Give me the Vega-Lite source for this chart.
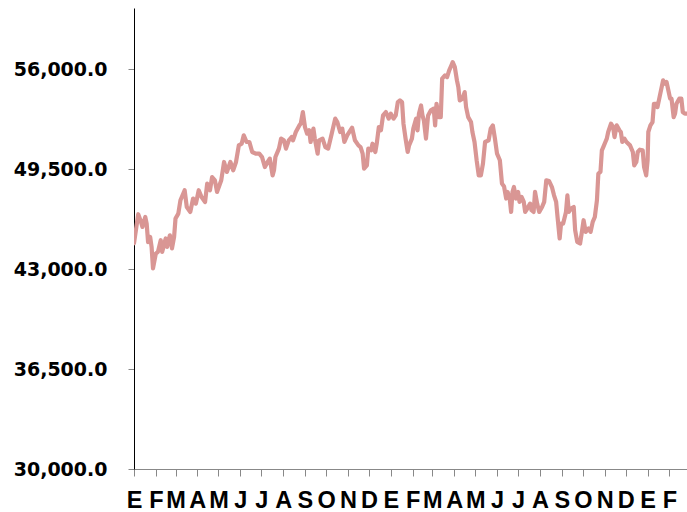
{
  "$schema": "https://vega.github.io/schema/vega-lite/v6.json",
  "width": 553,
  "height": 461,
  "autosize": {"type": "none"},
  "padding": {"left": 134, "top": 8, "right": 0, "bottom": 43},
  "background": "white",
  "config": {"view": {"stroke": null}},
  "data": {"values": [
    {"date":"2021-01-01","value":44690},{"date":"2021-01-07","value":46580},{"date":"2021-01-11","value":46070},{"date":"2021-01-13","value":45750},{"date":"2021-01-17","value":46400},{"date":"2021-01-19","value":45970},{"date":"2021-01-21","value":44770},{"date":"2021-01-24","value":45100},{"date":"2021-01-26","value":44450},{"date":"2021-01-28","value":43050},
    {"date":"2021-02-01","value":44020},{"date":"2021-02-04","value":44130},{"date":"2021-02-08","value":44890},{"date":"2021-02-10","value":44130},{"date":"2021-02-15","value":45000},{"date":"2021-02-17","value":44450},{"date":"2021-02-21","value":45210},{"date":"2021-02-24","value":44350},{"date":"2021-02-27","value":45100},
    {"date":"2021-03-01","value":46300},{"date":"2021-03-05","value":46620},{"date":"2021-03-08","value":47490},{"date":"2021-03-14","value":48140},{"date":"2021-03-17","value":47050},{"date":"2021-03-22","value":46730},{"date":"2021-03-26","value":47600},{"date":"2021-03-30","value":47270},
    {"date":"2021-04-03","value":48140},{"date":"2021-04-07","value":47700},{"date":"2021-04-12","value":47380},{"date":"2021-04-15","value":48570},{"date":"2021-04-19","value":48140},{"date":"2021-04-22","value":49000},{"date":"2021-04-26","value":48790},{"date":"2021-04-29","value":48030},
    {"date":"2021-05-05","value":48790},{"date":"2021-05-09","value":49980},{"date":"2021-05-13","value":49330},{"date":"2021-05-18","value":49980},{"date":"2021-05-22","value":49440},{"date":"2021-05-26","value":49980},{"date":"2021-05-30","value":51060},
    {"date":"2021-06-03","value":51170},{"date":"2021-06-06","value":51710},{"date":"2021-06-10","value":51280},{"date":"2021-06-14","value":51280},{"date":"2021-06-18","value":50630},{"date":"2021-06-23","value":50520},{"date":"2021-06-28","value":50520},
    {"date":"2021-07-02","value":50300},{"date":"2021-07-06","value":49650},{"date":"2021-07-10","value":49980},{"date":"2021-07-13","value":50200},{"date":"2021-07-17","value":49110},{"date":"2021-07-19","value":49440},{"date":"2021-07-21","value":50300},{"date":"2021-07-26","value":50850},{"date":"2021-07-29","value":51500},
    {"date":"2021-08-02","value":51390},{"date":"2021-08-05","value":50850},{"date":"2021-08-09","value":51390},{"date":"2021-08-13","value":51600},{"date":"2021-08-15","value":51390},{"date":"2021-08-19","value":51930},{"date":"2021-08-24","value":52360},{"date":"2021-08-26","value":52470},{"date":"2021-08-29","value":53230},
    {"date":"2021-09-01","value":52250},{"date":"2021-09-04","value":51820},{"date":"2021-09-07","value":52040},{"date":"2021-09-09","value":51280},{"date":"2021-09-13","value":52150},{"date":"2021-09-15","value":51500},{"date":"2021-09-19","value":50520},{"date":"2021-09-21","value":51390},{"date":"2021-09-26","value":51500},{"date":"2021-09-30","value":50950},
    {"date":"2021-10-04","value":50850},{"date":"2021-10-09","value":51820},{"date":"2021-10-14","value":52800},{"date":"2021-10-17","value":52580},{"date":"2021-10-21","value":51930},{"date":"2021-10-24","value":52150},{"date":"2021-10-27","value":51280},{"date":"2021-10-31","value":51710},
    {"date":"2021-11-07","value":52210},{"date":"2021-11-11","value":51390},{"date":"2021-11-16","value":51060},{"date":"2021-11-19","value":50950},{"date":"2021-11-22","value":50520},{"date":"2021-11-24","value":49550},{"date":"2021-11-28","value":49760},{"date":"2021-11-30","value":50850},
    {"date":"2021-12-04","value":50740},{"date":"2021-12-06","value":51170},{"date":"2021-12-10","value":50630},{"date":"2021-12-12","value":51170},{"date":"2021-12-15","value":52250},{"date":"2021-12-18","value":52040},{"date":"2021-12-21","value":53010},{"date":"2021-12-25","value":53230},{"date":"2021-12-29","value":52800},
    {"date":"2022-01-01","value":53120},{"date":"2022-01-05","value":52800},{"date":"2022-01-08","value":53010},{"date":"2022-01-11","value":53880},{"date":"2022-01-14","value":53990},{"date":"2022-01-17","value":53880},{"date":"2022-01-19","value":52470},{"date":"2022-01-22","value":51500},{"date":"2022-01-25","value":50630},{"date":"2022-01-27","value":51060},{"date":"2022-01-31","value":51500},
    {"date":"2022-02-02","value":52150},{"date":"2022-02-06","value":52800},{"date":"2022-02-08","value":52040},{"date":"2022-02-10","value":53120},{"date":"2022-02-13","value":53660},{"date":"2022-02-15","value":53010},{"date":"2022-02-17","value":52690},{"date":"2022-02-20","value":51500},{"date":"2022-02-23","value":53010},{"date":"2022-02-27","value":53340},
    {"date":"2022-03-03","value":53450},{"date":"2022-03-05","value":52360},{"date":"2022-03-07","value":53770},{"date":"2022-03-10","value":52900},{"date":"2022-03-13","value":52900},{"date":"2022-03-15","value":55400},{"date":"2022-03-19","value":55610},{"date":"2022-03-22","value":55500},{"date":"2022-03-25","value":55940},{"date":"2022-03-28","value":56260},{"date":"2022-03-30","value":56480},
    {"date":"2022-04-02","value":56150},{"date":"2022-04-05","value":55290},{"date":"2022-04-07","value":54850},{"date":"2022-04-09","value":53990},{"date":"2022-04-13","value":54100},{"date":"2022-04-16","value":54530},{"date":"2022-04-18","value":53550},{"date":"2022-04-21","value":52900},{"date":"2022-04-25","value":52580},{"date":"2022-04-27","value":51930},{"date":"2022-04-30","value":51280},
    {"date":"2022-05-03","value":50090},{"date":"2022-05-06","value":49110},{"date":"2022-05-09","value":49110},{"date":"2022-05-12","value":49870},{"date":"2022-05-15","value":51280},{"date":"2022-05-20","value":51390},{"date":"2022-05-23","value":52150},{"date":"2022-05-26","value":52360},{"date":"2022-05-29","value":51500},
    {"date":"2022-06-01","value":50520},{"date":"2022-06-05","value":50090},{"date":"2022-06-08","value":48570},{"date":"2022-06-11","value":48380},{"date":"2022-06-14","value":47600},{"date":"2022-06-16","value":48030},{"date":"2022-06-19","value":47600},{"date":"2022-06-21","value":46730},{"date":"2022-06-23","value":48030},{"date":"2022-06-25","value":48350},{"date":"2022-06-28","value":47600},
    {"date":"2022-07-01","value":48030},{"date":"2022-07-03","value":47380},{"date":"2022-07-06","value":47700},{"date":"2022-07-09","value":47380},{"date":"2022-07-11","value":46730},{"date":"2022-07-14","value":46950},{"date":"2022-07-18","value":47270},{"date":"2022-07-20","value":46840},{"date":"2022-07-23","value":46730},{"date":"2022-07-25","value":48030},{"date":"2022-07-28","value":47270},{"date":"2022-07-31","value":46730},
    {"date":"2022-08-04","value":47050},{"date":"2022-08-07","value":47380},{"date":"2022-08-10","value":48790},{"date":"2022-08-14","value":48740},{"date":"2022-08-18","value":48350},{"date":"2022-08-21","value":47810},{"date":"2022-08-24","value":47380},{"date":"2022-08-26","value":46400},{"date":"2022-08-29","value":45000},{"date":"2022-08-31","value":45970},
    {"date":"2022-09-03","value":45970},{"date":"2022-09-07","value":46730},{"date":"2022-09-09","value":47810},{"date":"2022-09-11","value":46730},{"date":"2022-09-14","value":46950},{"date":"2022-09-18","value":47050},{"date":"2022-09-20","value":45540},{"date":"2022-09-23","value":44780},{"date":"2022-09-27","value":44670},{"date":"2022-09-30","value":45540},
    {"date":"2022-10-02","value":46190},{"date":"2022-10-05","value":45430},{"date":"2022-10-09","value":45650},{"date":"2022-10-12","value":45430},{"date":"2022-10-15","value":46080},{"date":"2022-10-18","value":46400},{"date":"2022-10-21","value":47490},{"date":"2022-10-23","value":49220},{"date":"2022-10-26","value":49330},{"date":"2022-10-28","value":50740},{"date":"2022-10-30","value":50950},
    {"date":"2022-11-02","value":51280},{"date":"2022-11-04","value":51500},{"date":"2022-11-06","value":51930},{"date":"2022-11-10","value":52470},{"date":"2022-11-13","value":52250},{"date":"2022-11-15","value":51600},{"date":"2022-11-18","value":52360},{"date":"2022-11-22","value":52040},{"date":"2022-11-24","value":51930},{"date":"2022-11-26","value":51280},{"date":"2022-11-29","value":51500},
    {"date":"2022-12-02","value":51280},{"date":"2022-12-07","value":51060},{"date":"2022-12-11","value":50630},{"date":"2022-12-13","value":49760},{"date":"2022-12-16","value":49980},{"date":"2022-12-18","value":50630},{"date":"2022-12-21","value":50780},{"date":"2022-12-25","value":50740},{"date":"2022-12-27","value":49650},{"date":"2022-12-30","value":49110},
    {"date":"2023-01-01","value":50090},{"date":"2023-01-02","value":51930},{"date":"2023-01-05","value":52360},{"date":"2023-01-08","value":52580},{"date":"2023-01-10","value":53770},{"date":"2023-01-13","value":53770},{"date":"2023-01-15","value":53550},{"date":"2023-01-18","value":54200},{"date":"2023-01-21","value":54850},{"date":"2023-01-23","value":55290},{"date":"2023-01-26","value":55070},{"date":"2023-01-28","value":55180},{"date":"2023-01-31","value":54530},
    {"date":"2023-02-02","value":54100},{"date":"2023-02-04","value":54100},{"date":"2023-02-07","value":52900},{"date":"2023-02-09","value":53120},{"date":"2023-02-11","value":53770},{"date":"2023-02-15","value":54100},{"date":"2023-02-18","value":54100},{"date":"2023-02-20","value":53230},{"date":"2023-02-23","value":53120},{"date":"2023-02-26","value":53120}
  ]},
  "mark": {"type": "line", "color": "#d99694", "strokeWidth": 4.2, "strokeJoin": "round", "strokeCap": "round", "clip": true},
  "encoding": {
    "x": {
      "field": "date", "type": "temporal", "title": null,
      "scale": {"domain": [{"year": 2021, "month": 1, "date": 1, "utc": true}, {"year": 2023, "month": 2, "date": 26, "utc": true}]},
      "axis": {
        "values": [
          {"year":2021,"month":1,"date":1,"utc":true},{"year":2021,"month":2,"date":1,"utc":true},{"year":2021,"month":3,"date":1,"utc":true},{"year":2021,"month":4,"date":1,"utc":true},{"year":2021,"month":5,"date":1,"utc":true},{"year":2021,"month":6,"date":1,"utc":true},{"year":2021,"month":7,"date":1,"utc":true},{"year":2021,"month":8,"date":1,"utc":true},{"year":2021,"month":9,"date":1,"utc":true},{"year":2021,"month":10,"date":1,"utc":true},{"year":2021,"month":11,"date":1,"utc":true},{"year":2021,"month":12,"date":1,"utc":true},
          {"year":2022,"month":1,"date":1,"utc":true},{"year":2022,"month":2,"date":1,"utc":true},{"year":2022,"month":3,"date":1,"utc":true},{"year":2022,"month":4,"date":1,"utc":true},{"year":2022,"month":5,"date":1,"utc":true},{"year":2022,"month":6,"date":1,"utc":true},{"year":2022,"month":7,"date":1,"utc":true},{"year":2022,"month":8,"date":1,"utc":true},{"year":2022,"month":9,"date":1,"utc":true},{"year":2022,"month":10,"date":1,"utc":true},{"year":2022,"month":11,"date":1,"utc":true},{"year":2022,"month":12,"date":1,"utc":true},
          {"year":2023,"month":1,"date":1,"utc":true},{"year":2023,"month":2,"date":1,"utc":true}
        ],
        "labelExpr": "['E','F','M','A','M','J','J','A','S','O','N','D'][utcmonth(datum.value)]",
        "grid": false,
        "domainColor": "#888888",
        "tickColor": "#888888",
        "tickSize": 7,
        "labelPadding": 12,
        "labelFont": "Liberation Sans",
        "labelFontWeight": "bold",
        "labelFontSize": 23.5,
        "labelColor": "#000000",
        "labelOverlap": false,
        "labelFlush": false,
        "labelBound": false
      }
    },
    "y": {
      "field": "value", "type": "quantitative", "title": null,
      "scale": {"domain": [30000, 60000], "nice": false, "zero": false},
      "axis": {
        "values": [30000, 36500, 43000, 49500, 56000],
        "format": ",.1f",
        "grid": false,
        "domainColor": "#000000",
        "tickColor": "#888888",
        "tickSize": 6,
        "labelPadding": 21,
        "labelFont": "DejaVu Sans",
        "labelFontWeight": "bold",
        "labelFontSize": 19,
        "labelColor": "#000000"
      }
    }
  }
}
